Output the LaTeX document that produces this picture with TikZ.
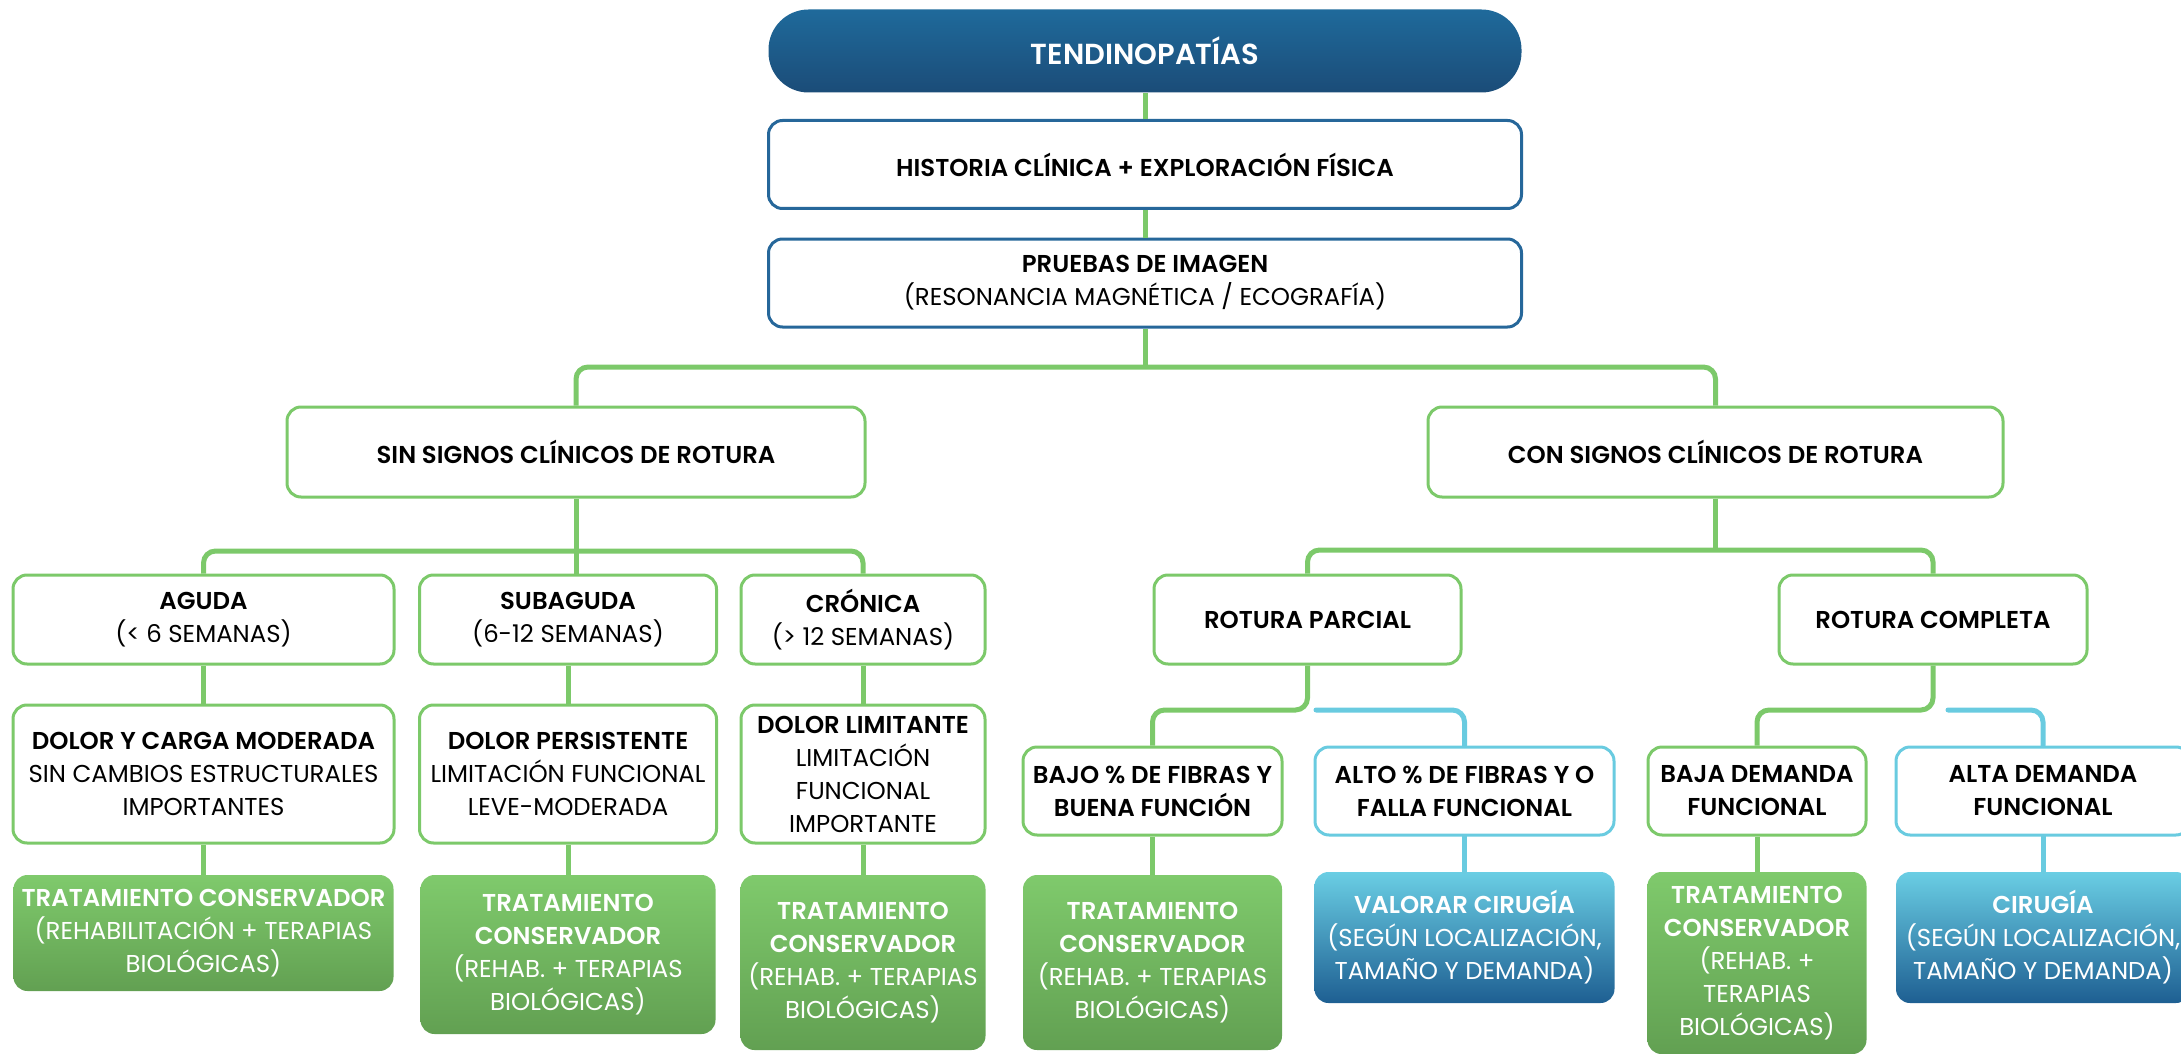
\documentclass[tikz,border=0pt]{standalone}
\usepackage{fontspec}
\setmainfont{Poppins}[BoldFont={* SemiBold}]
\usetikzlibrary{positioning}

\definecolor{leafgreen}{HTML}{7CC96A}
\definecolor{skyline}{HTML}{69CBE0}
\definecolor{navyedge}{HTML}{26679A}
\definecolor{pilltop}{HTML}{1F6A9B}
\definecolor{pillbot}{HTML}{1B4C78}
\definecolor{greentop}{HTML}{7FCA6C}
\definecolor{greenbot}{HTML}{62A052}
\definecolor{bluetop}{HTML}{6ACEE4}
\definecolor{bluebot}{HTML}{1E5F92}

\tikzstyle{title} = [rectangle, rounded corners=20pt, top color=pilltop,
    bottom color=pillbot, text=white, font=\bfseries\fontsize{14.5}{17}\selectfont,
    minimum width=376.5pt, minimum height=41.5pt]
\tikzstyle{box} = [rectangle, draw, line width=1.5pt, fill=white,
    rounded corners=7pt, align=center, inner sep=1pt,
    font=\fontsize{12.2}{16.5}\selectfont]
\tikzstyle{navybox} = [box, draw=navyedge, minimum width=376.5pt, minimum height=44pt]
\tikzstyle{greenbox} = [box, draw=leafgreen]
\tikzstyle{bluebox} = [box, draw=skyline]
\tikzstyle{greentreat} = [rectangle, rounded corners=7pt, top color=greentop,
    bottom color=greenbot, text=white, align=center, inner sep=1pt,
    font=\fontsize{12.2}{16.5}\selectfont]
\tikzstyle{bluetreat} = [greentreat, top color=bluetop, bottom color=bluebot]
\tikzstyle{gline} = [draw=leafgreen, line width=2.5pt, rounded corners=6pt]
\tikzstyle{bline} = [draw=skyline, line width=2.5pt, rounded corners=6pt, line cap=round]

\begin{document}
\begin{tikzpicture}[x=0.5pt, y=-0.5pt]
\useasboundingbox (0,0) rectangle (2181,1054);
% Place nodes
\node [title] (top) at (1145,51) {TENDINOPATÍAS};
\node [navybox] (hist) at (1145,164.5) {\textbf{HISTORIA CLÍNICA + EXPLORACIÓN FÍSICA}};
\node [navybox] (pru) at (1145,283) {\textbf{PRUEBAS DE IMAGEN}\\(RESONANCIA MAGNÉTICA / ECOGRAFÍA)};

\node [greenbox, minimum width=289pt, minimum height=45pt] (sin) at (576,452)
    {\textbf{SIN SIGNOS CLÍNICOS DE ROTURA}};
\node [greenbox, minimum width=287.5pt, minimum height=45pt] (con) at (1715.5,452)
    {\textbf{CON SIGNOS CLÍNICOS DE ROTURA}};

\node [greenbox, minimum width=190.5pt, minimum height=44.5pt] (agu) at (203.5,619.5)
    {\textbf{AGUDA}\\(< 6 SEMANAS)};
\node [greenbox, minimum width=148.5pt, minimum height=44.5pt] (sub) at (568,619.5)
    {\textbf{SUBAGUDA}\\(6-12 SEMANAS)};
\node [greenbox, minimum width=122pt, minimum height=44.5pt] (cro) at (863,619.5)
    {\textbf{CRÓNICA}\\(> 12 SEMANAS)};
\node [greenbox, minimum width=153.5pt, minimum height=44.5pt] (par) at (1307.5,619.5)
    {\textbf{ROTURA PARCIAL}};
\node [greenbox, minimum width=154pt, minimum height=44.5pt] (com) at (1933,619.5)
    {\textbf{ROTURA COMPLETA}};

\node [greenbox, minimum width=190.5pt, minimum height=69pt] (dol1) at (203.5,774)
    {\textbf{DOLOR Y CARGA MODERADA}\\SIN CAMBIOS ESTRUCTURALES\\IMPORTANTES};
\node [greenbox, minimum width=148.5pt, minimum height=69pt] (dol2) at (568,774)
    {\textbf{DOLOR PERSISTENTE}\\LIMITACIÓN FUNCIONAL\\LEVE-MODERADA};
\node [greenbox, minimum width=122pt, minimum height=69pt] (dol3) at (863,774)
    {\textbf{DOLOR LIMITANTE}\\LIMITACIÓN\\FUNCIONAL\\IMPORTANTE};

\node [greenbox, minimum width=129.5pt, minimum height=44pt] (bajo) at (1152.5,791)
    {\textbf{BAJO \% DE FIBRAS Y}\\\textbf{BUENA FUNCIÓN}};
\node [bluebox, minimum width=149.5pt, minimum height=44pt] (alto) at (1464.5,791)
    {\textbf{ALTO \% DE FIBRAS Y O}\\\textbf{FALLA FUNCIONAL}};
\node [greenbox, minimum width=109pt, minimum height=44pt] (baja) at (1757,791)
    {\textbf{BAJA DEMANDA}\\\textbf{FUNCIONAL}};
\node [bluebox, minimum width=147pt, minimum height=44pt] (alta) at (2043,791)
    {\textbf{ALTA DEMANDA}\\\textbf{FUNCIONAL}};

\node [greentreat, minimum width=190pt, minimum height=58pt] (tr1) at (203.5,933)
    {\textbf{TRATAMIENTO CONSERVADOR}\\(REHABILITACIÓN + TERAPIAS\\BIOLÓGICAS)};
\node [greentreat, minimum width=147.5pt, minimum height=79.5pt] (tr2) at (568,954.5)
    {\textbf{TRATAMIENTO}\\\textbf{CONSERVADOR}\\(REHAB. + TERAPIAS\\BIOLÓGICAS)};
\node [greentreat, minimum width=122.5pt, minimum height=87.5pt] (tr3) at (863,962.5)
    {\textbf{TRATAMIENTO}\\\textbf{CONSERVADOR}\\(REHAB. + TERAPIAS\\BIOLÓGICAS)};
\node [greentreat, minimum width=129.5pt, minimum height=87.5pt] (tr4) at (1152.5,962.5)
    {\textbf{TRATAMIENTO}\\\textbf{CONSERVADOR}\\(REHAB. + TERAPIAS\\BIOLÓGICAS)};
\node [bluetreat, minimum width=150pt, minimum height=65.5pt] (val) at (1464.5,937.5)
    {\textbf{VALORAR CIRUGÍA}\\(SEGÚN LOCALIZACIÓN,\\TAMAÑO Y DEMANDA)};
\node [greentreat, minimum width=109.5pt, minimum height=91pt] (tr5) at (1757,963)
    {\textbf{TRATAMIENTO}\\\textbf{CONSERVADOR}\\(REHAB. +\\TERAPIAS\\BIOLÓGICAS)};
\node [bluetreat, minimum width=147pt, minimum height=65.5pt] (cir) at (2043,937.5)
    {\textbf{CIRUGÍA}\\(SEGÚN LOCALIZACIÓN,\\TAMAÑO Y DEMANDA)};

% Branch points
\coordinate (topsplit) at (1145,367);
\coordinate (sinsplit) at (576,551);
\coordinate (consplit) at (1715.5,550);
\coordinate (parsplit) at (1307.5,710);
\coordinate (parblue) at (1316,710);
\coordinate (comsplit) at (1933,710);
\coordinate (comblue) at (1948,710);

% Draw edges
\path [gline] (top) -- (hist);
\path [gline] (hist) -- (pru);
\path [gline] (pru) -- (topsplit);
\path [gline] (sin.north) |- (topsplit) -| (con.north);

\path [gline] (sin) -- (sinsplit);
\path [gline] (agu.north) |- (sinsplit) -| (cro.north);
\path [gline] (sinsplit) -- (sinsplit |- sub.north);
\path [gline] (agu) -- (dol1);
\path [gline] (sub) -- (dol2);
\path [gline] (cro) -- (dol3);
\path [gline] (dol1) -- (tr1);
\path [gline] (dol2) -- (tr2);
\path [gline] (dol3) -- (tr3);

\path [gline] (con) -- (consplit);
\path [gline] (par.north) |- (consplit) -| (com.north);
\path [gline] (par.south) -- (parsplit) -| (bajo.north);
\path [bline] (parblue) -| (alto.north);
\path [gline] (com.south) -- (comsplit) -| (baja.north);
\path [bline] (comblue) -| (alta.north);

\path [gline] (bajo) -- (tr4);
\path [bline] (alto) -- (val);
\path [gline] (baja) -- (tr5);
\path [bline] (alta) -- (cir);
\end{tikzpicture}
\end{document}
